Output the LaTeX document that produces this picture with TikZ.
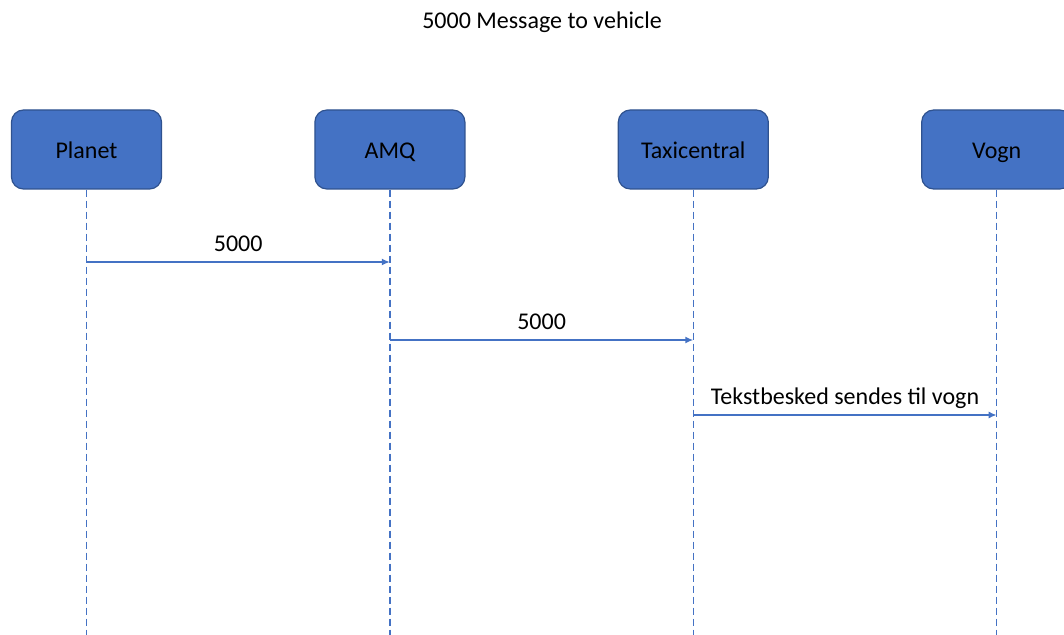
\documentclass[tikz,border=0pt]{standalone}
\usepackage{fontspec}
\setmainfont{Carlito}
\usepackage{tikz}
\usetikzlibrary{arrows.meta}
\usetikzlibrary{positioning}
\definecolor{boxblue}{HTML}{4472C4}
\definecolor{boxedge}{HTML}{2F528F}
\tikzstyle{every node}+=[inner sep=0pt]
\tikzstyle{actor} = [rectangle, draw=boxedge, fill=boxblue, line width=0.6pt, rounded corners=6pt, minimum width=75pt, minimum height=39.5pt, text height=11pt, text depth=2pt, font=\fontsize{12}{14}\selectfont]
\tikzstyle{lifeline} = [draw=boxblue, line width=0.6pt, dash pattern=on 3.5pt off 2pt]
\tikzstyle{msg} = [draw=boxblue, line width=0.8pt, -{Latex[length=4pt,width=3.5pt]}]
\tikzstyle{msglabel} = [anchor=base, font=\fontsize{12}{14}\selectfont, yshift=5pt]

\begin{document}
\begin{tikzpicture}[x=0.5pt, y=-0.5pt, node distance=151.7pt]
            \useasboundingbox (0,0) rectangle (1064,635);
            % Place nodes
            \node [font=\fontsize{12}{14}\selectfont] (title) at (542,22) {5000 Message to vehicle};
            \node [actor] (planet) at (86.5,149.5) {Planet};
            \node [actor, right of=planet] (amq) {AMQ};
            \node [actor, right of=amq] (taxi) {Taxicentral};
            \node [actor, right of=taxi] (vogn) {Vogn};
            \coordinate (bottom) at (0,640);
            \coordinate (row1) at (0,262);
            \coordinate (row2) at (0,340);
            \coordinate (row3) at (0,415);
            % Draw lifelines
            \foreach \n in {planet, amq, taxi, vogn}
              \path [lifeline] (\n.south) -- (\n.south |- bottom);
            % Draw messages
            \path [msg] (planet |- row1) -- node [msglabel] {5000} (amq |- row1);
            \path [msg] (amq |- row2) -- node [msglabel] {5000} (taxi |- row2);
            \path [msg] (taxi |- row3) -- node [msglabel] {Tekstbesked sendes til vogn} (vogn |- row3);
\end{tikzpicture}
\end{document}
